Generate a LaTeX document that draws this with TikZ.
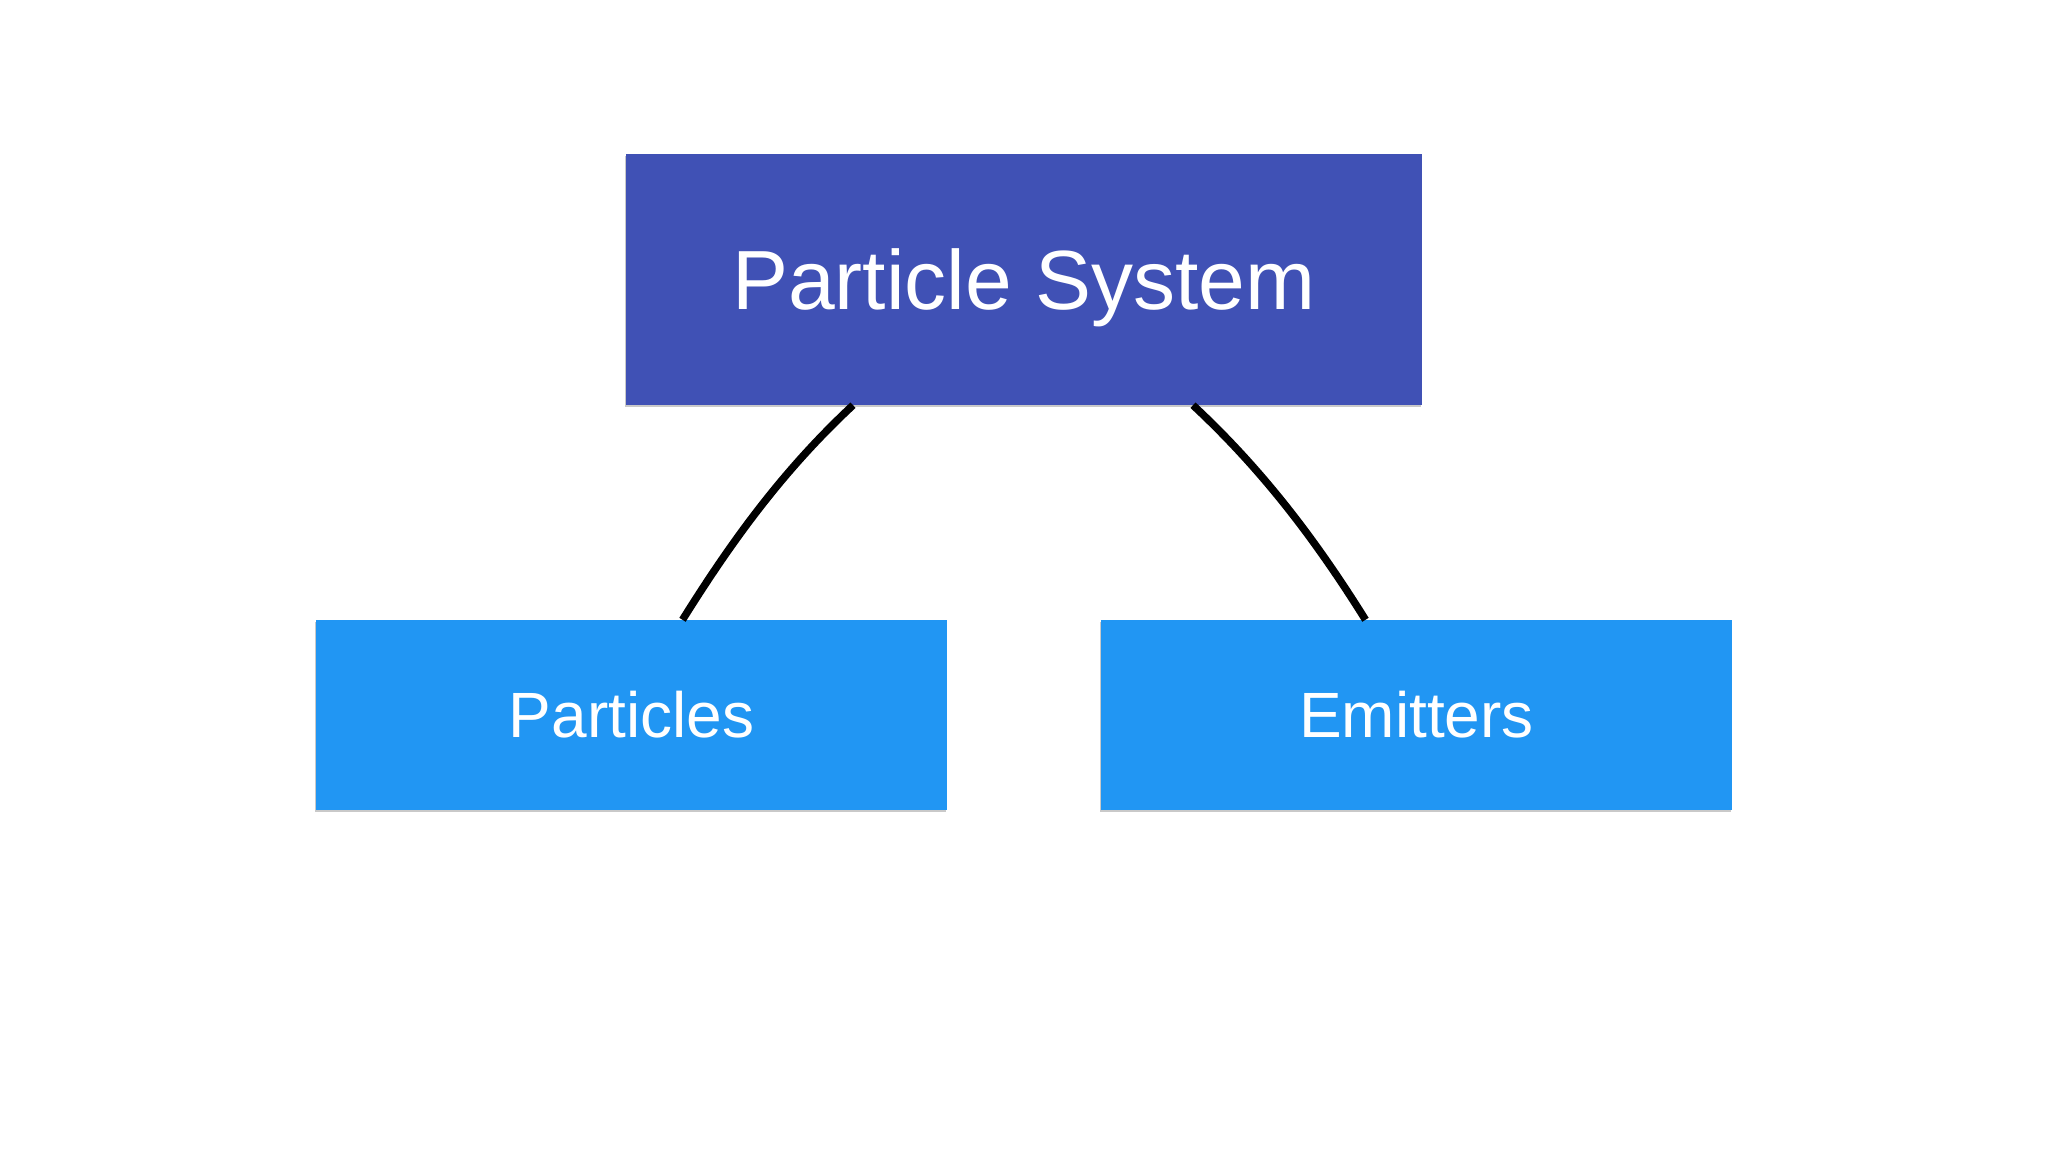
\documentclass[tikz,border=0pt]{standalone}
\usepackage{fontspec}
\setmainfont{Liberation Sans}
\usetikzlibrary{shadows}
\definecolor{topblue}{HTML}{4051B5}
\definecolor{subblue}{HTML}{2196F3}
\tikzset{
  boxshadow/.style={drop shadow={shadow xshift=-1pt, shadow yshift=-2pt, fill=black!35, opacity=0.6}},
  topbox/.style={rectangle, fill=topblue, boxshadow, text=white, inner sep=0pt,
    minimum width=796pt, minimum height=251pt,
    font=\fontsize{84}{100}\selectfont, text height=60pt, text depth=0pt},
  subbox/.style={rectangle, fill=subblue, boxshadow, text=white, inner sep=0pt,
    minimum width=631pt, minimum height=190pt,
    font=\fontsize{64}{76}\selectfont, text height=46pt, text depth=0pt},
  link/.style={draw=black, line width=7.5pt}
}
\begin{document}
\begin{tikzpicture}[x=1pt,y=1pt]
  \fill[white] (0,0) rectangle (2048,1152);
  \useasboundingbox (0,0) rectangle (2048,1152);
  \node[topbox] (sys) at (1024,872.5) {Particle System};
  \node[subbox] (parts) at (631.5,437) {Particles};
  \node[subbox] (emit) at (1416.5,437) {Emitters};
  \coordinate (ls) at ([xshift=-171pt]sys.south);
  \coordinate (rs) at ([xshift=169pt]sys.south);
  \coordinate (le) at ([xshift=51pt]parts.north);
  \coordinate (re) at ([xshift=-51pt]emit.north);
  \draw[link] (ls) .. controls +(223:95pt) and +(58:95pt) .. (le);
  \draw[link] (rs) .. controls +(-43:95pt) and +(122:95pt) .. (re);
\end{tikzpicture}
\end{document}
